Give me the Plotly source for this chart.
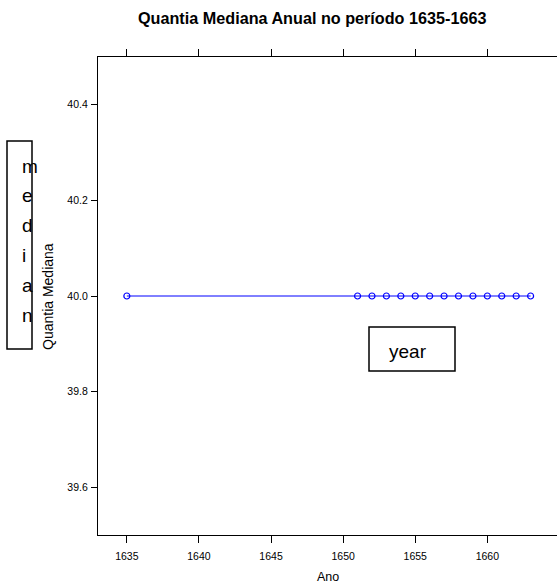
import plotly.graph_objects as go

years = [1635, 1651, 1652, 1653, 1654, 1655, 1656, 1657, 1658, 1659, 1660, 1661, 1662, 1663]
median_qty = [40.0] * len(years)
x_ticks = [1635, 1640, 1645, 1650, 1655, 1660]
y_ticks = [39.6, 39.8, 40.0, 40.2, 40.4]
title_text = "Quantia Mediana Anual no período 1635-1663"
x_title = "Ano"
y_title = "Quantia Mediana"
side_letters = ["m", "e", "d", "i", "a", "n"]
box_label = "year"

W, H = 557, 587
L, T, B, R = 98, 57, 52, 0
PW, PH = W - L - R, H - T - B

def px(x):
    return (x - L) / PW

def py(y):
    return (H - B - y) / PH

FONT = "Liberation Sans, Arial, sans-serif"

fig = go.Figure()
fig.add_trace(go.Scatter(
    x=years, y=median_qty, mode="lines+markers",
    line=dict(color="#0000ff", width=1),
    marker=dict(symbol="circle-open", size=6, color="#0000ff", line=dict(width=1.2)),
    showlegend=False, hoverinfo="skip",
))

ann = []
ann.append(dict(text="<b>%s</b>" % title_text, x=px(312), y=py(18), xref="paper", yref="paper",
                showarrow=False, xanchor="center", yanchor="middle",
                font=dict(family=FONT, size=16.2, color="black")))
ann.append(dict(text=x_title, x=px(328), y=py(577), xref="paper", yref="paper",
                showarrow=False, xanchor="center", yanchor="middle",
                font=dict(family=FONT, size=12.5, color="black")))
ann.append(dict(text=y_title, x=px(48), y=py(297), xref="paper", yref="paper",
                showarrow=False, xanchor="center", yanchor="middle", textangle=-90,
                font=dict(family=FONT, size=14, color="black")))
for i, ch in enumerate(side_letters):
    base = 173 + 29.8 * i
    ann.append(dict(text=ch, x=px(20), y=py(base - 7), xref="paper", yref="paper",
                    showarrow=False, xanchor="left", yanchor="middle",
                    font=dict(family=FONT, size=19, color="black")))
ann.append(dict(text=box_label, x=px(408), y=py(351), xref="paper", yref="paper",
                showarrow=False, xanchor="center", yanchor="middle",
                font=dict(family=FONT, size=19, color="black")))

shapes = [
    dict(type="rect", xref="paper", yref="paper", x0=px(7), x1=px(32), y0=py(141), y1=py(349),
         line=dict(color="black", width=1.5), fillcolor="rgba(0,0,0,0)"),
    dict(type="rect", xref="paper", yref="paper", x0=px(369), x1=px(455), y0=py(327), y1=py(371),
         line=dict(color="black", width=1.5), fillcolor="rgba(0,0,0,0)"),
]

fig.update_layout(
    width=W, height=H, margin=dict(l=L, r=R, t=T, b=B),
    paper_bgcolor="white", plot_bgcolor="white",
    annotations=ann, shapes=shapes,
    xaxis=dict(range=[1633, 1633 + PW / 14.42], tickvals=x_ticks, ticks="outside", ticklen=7,
               tickcolor="black", showline=True, linecolor="black", linewidth=1.2, mirror="ticks",
               showgrid=False, zeroline=False, ticklabelstandoff=4,
               tickfont=dict(family=FONT, size=10.5, color="black")),
    yaxis=dict(range=[39.5, 40.5], tickvals=y_ticks, tickformat=".1f", ticks="outside", ticklen=6,
               tickcolor="black", showline=True, linecolor="black", linewidth=1.2, mirror=False,
               showgrid=False, zeroline=False, ticklabelstandoff=1,
               tickfont=dict(family=FONT, size=10.5, color="black")),
)
fig.write_html("out.html", config={"displayModeBar": False})

with open("out.html", "r", encoding="utf-8") as f:
    html = f.read()
html = html.replace("<head>", "<head><style>html,body{margin:0;padding:0;overflow:hidden;}</style>", 1)
with open("out.html", "w", encoding="utf-8") as f:
    f.write(html)
